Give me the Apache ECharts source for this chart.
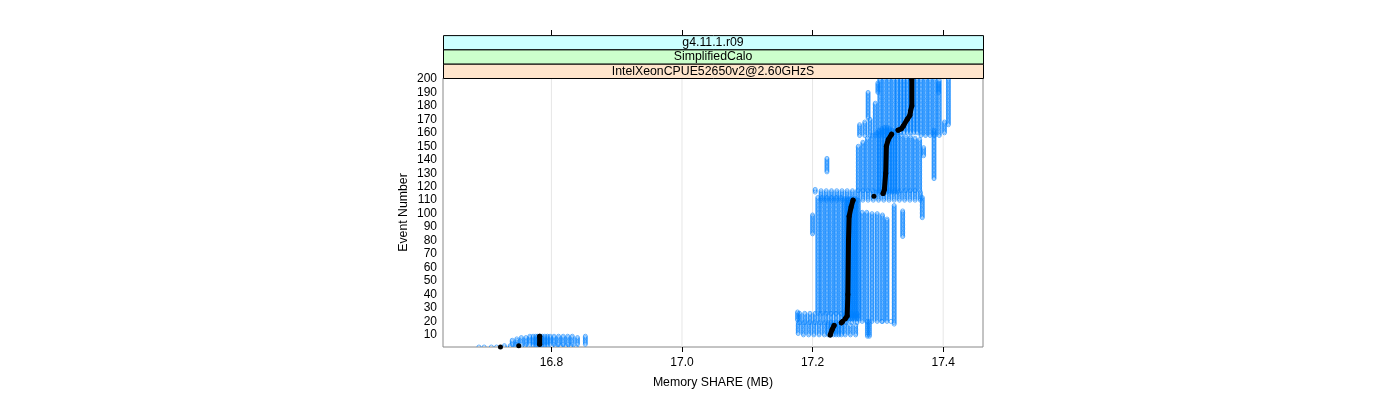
<!DOCTYPE html>
<html><head><meta charset="utf-8">
<script src="https://cdn.jsdelivr.net/npm/echarts@6/dist/echarts.min.js"></script>
<style>html,body{margin:0;background:#fff}#c{width:1400px;height:400px}</style>
</head><body><div id="c"></div>
<script>
// ---- labels & ticks ----
const stripLabels = ['g4.11.1.r09', 'SimplifiedCalo', 'IntelXeonCPUE52650v2@2.60GHzS'];
const stripColors = ['#ccffff', '#ccffcc', '#ffe5cc'];
const xTicks = [16.8, 17.0, 17.2, 17.4];
const yTicks = [10,20,30,40,50,60,70,80,90,100,110,120,130,140,150,160,170,180,190,200];
const X_MIN = 16.634, X_MAX = 17.461, Y_MIN = 1.0, Y_MAX = 200.7;

// ---- individual runs: [memory MB, first event, last event] ----
const lowScatter = [[16.689,1,1],[16.697,1,1],[16.708,1,1],[16.716,1,1],[16.728,1,2],[16.737,1,2],[16.745,1,3],[16.760,1,2],[16.806,1,2],[16.814,1,2],[16.822,1,2],[16.830,1,2],[16.838,1,1]];
const lowBlock = [[16.740,3,6],[16.747,3,7],[16.754,3,8],[16.761,3,8],[16.767,3,9],[16.772,2,9],[16.776,2,9],[16.779,2,9],[16.783,2,9],[16.786,2,9],[16.790,2,9],[16.794,2,9],[16.798,3,9],[16.804,3,9],[16.811,3,9],[16.818,3,9],[16.825,3,9],[16.832,3,9],[16.840,3,8],[16.852,3,9]];
const r1Lower = [[17.178,11,19],[17.186,10,19],[17.194,10,19],[17.202,10,19],[17.210,10,19],[17.218,10,19],[17.224,10,19],[17.228,10,19],[17.232,10,19],[17.236,10,19],[17.240,10,19],[17.244,10,19],[17.250,10,19],[17.258,10,17],[17.266,10,17],[17.284,9,20],[17.287,9,20]];
const r1Upper = [[17.177,21,27],[17.180,19,26],[17.188,19,26],[17.196,19,26],[17.204,19,26],[17.212,19,26],[17.220,19,26],[17.228,19,26],[17.236,19,26],[17.244,19,26],[17.252,19,26],[17.260,19,26],[17.268,19,26],[17.306,20,20],[17.320,20,20]];
const r2Runs = [[17.200,85,99],[17.208,26,112],[17.215,26,112],[17.222,26,112],[17.229,26,112],[17.236,26,112],[17.243,26,112],
  [17.249,22,111],[17.252,22,111],[17.255,22,111],[17.258,22,111],[17.261,22,111],[17.264,22,111],[17.267,22,111],[17.270,22,110],
  [17.276,20,101],[17.283,20,101],[17.291,20,100],[17.299,20,100],[17.307,20,99],[17.314,20,96],
  [17.325,18,106],[17.338,83,102],[17.368,97,112]];
const r3Row = [[17.204,116,118],[17.213,110,117],[17.221,110,117],[17.229,110,117],[17.237,110,117],[17.245,110,117],[17.253,110,117],[17.261,110,117],[17.269,110,117],[17.277,110,117],[17.285,110,117],[17.293,110,117],[17.301,110,117],[17.309,110,117],[17.317,110,117],[17.325,110,117],[17.333,110,117],[17.341,110,117],[17.349,110,117],[17.357,110,117],[17.365,110,116],[17.222,131,141]];
const r4Runs = [[17.270,117,150],[17.277,117,153],[17.284,117,156],[17.291,117,158],[17.298,116,160],[17.302,116,162],[17.306,116,163],[17.310,116,164],[17.314,116,164],[17.318,116,163],[17.322,116,162],[17.326,116,161],[17.330,116,160],[17.336,117,158],[17.343,117,157],[17.350,117,157],[17.357,117,156],[17.364,117,155],[17.370,143,149],[17.386,126,162]];
const r5Runs = [[17.272,158,166],[17.280,158,168],[17.288,158,170],[17.296,158,182],[17.303,158,200],[17.310,158,200],[17.317,158,200],[17.324,160,200],[17.330,160,200],[17.335,160,200],[17.340,160,200],[17.345,160,200],[17.350,160,200],[17.355,160,200],[17.360,160,200],[17.366,158,200],[17.373,158,200],[17.380,158,200],[17.387,158,200],[17.394,158,199],[17.402,160,168],
  [17.285,171,190],[17.300,190,197],[17.393,190,197],[17.408,166,200]];

// ---- median per event, in unbroken pieces: [memory MB, event] ----
const medianPieces = [
  [[16.722,1]],
  [[16.750,2]],
  [[16.782,3],[16.782,9]],
  [[17.227,10],[17.230,14],[17.233,17]],
  [[17.244,19],[17.246,20]],
  [[17.250,22],[17.253,24],[17.254,40],[17.255,80],[17.256,98],[17.259,105],[17.262,110]],
  [[17.294,113]],
  [[17.308,115],[17.310,118],[17.312,130],[17.313,150],[17.316,155],[17.321,159]],
  [[17.331,162],[17.336,163],[17.339,165],[17.345,170],[17.349,173],[17.350,176],[17.352,180],[17.352,200]]
];

const FONT = "'Liberation Sans', Arial, Helvetica, sans-serif";
const runs = [].concat(lowScatter, lowBlock, r1Lower, r1Upper, r2Runs, r3Row, r4Runs, r5Runs);

function renderRun(params, api) {
  const x = api.value(0), e0 = api.value(1), e1 = api.value(2);
  const children = [];
  for (let e = e0; e <= e1; e++) {
    const p = api.coord([x, e]);
    children.push({type: 'circle', shape: {cx: p[0], cy: p[1], r: 2.0},
      style: {fill: 'none', stroke: '#0080ff', lineWidth: 0.6}});
  }
  return {type: 'group', children};
}
function renderGrid(params, api) {
  const v = api.value(0);
  const a = api.coord([v, Y_MIN]), b = api.coord([v, Y_MAX]);
  return {type: 'line', shape: {x1: a[0], y1: a[1], x2: b[0], y2: b[1]},
    style: {stroke: '#e6e6e6', lineWidth: 1}};
}

const gridL = 443, gridT = 78, gridW = 540, gridH = 269;
const stripH = 14.3;
const graphics = [];
stripLabels.forEach((s, i) => {
  const y = gridT - (stripLabels.length - i) * stripH;
  graphics.push({type: 'rect', shape: {x: gridL + 0.5, y: y + 0.5, width: gridW, height: stripH},
    style: {fill: stripColors[i], stroke: '#000', lineWidth: 1}, z: 10});
  graphics.push({type: 'text', x: gridL + gridW / 2, y: y + stripH / 2 + 0.5,
    style: {text: s, fill: '#000', font: '12.3px ' + FONT, align: 'center', verticalAlign: 'middle'}, z: 11});
});

const series = [
  {type: 'custom', renderItem: renderGrid, data: xTicks.map(v => [v]), silent: true, z: 1, clip: true},
  {type: 'custom', renderItem: renderRun, data: runs, encode: {x: 0, y: [1, 2]}, silent: true, z: 2, clip: true}
];
medianPieces.forEach(p => series.push({
  type: 'line', data: p, symbol: 'circle', symbolSize: 5, showSymbol: true, showAllSymbol: true,
  itemStyle: {color: '#000'}, lineStyle: {color: '#000', width: 5, cap: 'round', join: 'round'},
  silent: true, z: 5, clip: false
}));

const chart = echarts.init(document.getElementById('c'), null, {renderer: 'canvas'});
chart.setOption({
  animation: false,
  backgroundColor: '#fff',
  grid: {left: gridL, top: gridT, width: gridW, height: gridH, show: true, borderColor: '#888', borderWidth: 1,
    backgroundColor: '#fff', containLabel: false, outerBoundsMode: 'none'},
  xAxis: [{
    type: 'value', min: X_MIN, max: X_MAX, position: 'bottom',
    axisLine: {show: false},
    axisTick: {show: true, customValues: xTicks, length: 5, lineStyle: {color: '#000'}},
    axisLabel: {customValues: xTicks, formatter: v => v.toFixed(1), margin: 10, fontSize: 12, color: '#000', fontFamily: FONT},
    splitLine: {show: false},
    name: 'Memory SHARE (MB)', nameLocation: 'middle', nameGap: 30,
    nameTextStyle: {fontSize: 12.3, color: '#000', fontFamily: FONT}
  }, {
    type: 'value', min: X_MIN, max: X_MAX, position: 'top', offset: 43,
    axisLine: {show: false},
    axisTick: {show: true, customValues: xTicks, length: 5, lineStyle: {color: '#000'}},
    axisLabel: {show: false}, splitLine: {show: false}
  }],
  yAxis: {
    type: 'value', min: Y_MIN, max: Y_MAX,
    axisLine: {show: false}, axisTick: {show: false},
    axisLabel: {customValues: yTicks, margin: 6, fontSize: 12, color: '#000', fontFamily: FONT},
    splitLine: {show: false},
    name: 'Event Number', nameLocation: 'middle', nameGap: 33, nameRotate: 90,
    nameTextStyle: {fontSize: 12.3, color: '#000', fontFamily: FONT}
  },
  graphic: graphics,
  series
});
</script></body></html>
